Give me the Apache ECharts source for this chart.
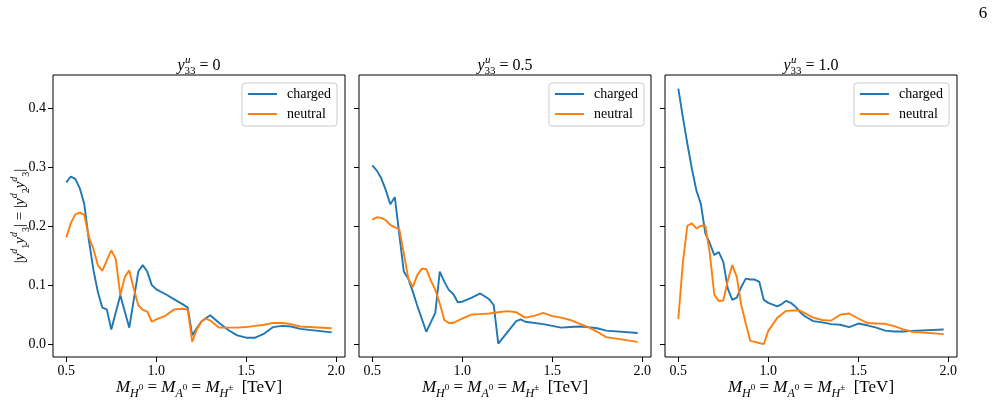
<!DOCTYPE html>
<html><head><meta charset="utf-8">
<script src="https://cdn.jsdelivr.net/npm/echarts@6/dist/echarts.min.js"></script>
<style>html,body{margin:0;padding:0;background:#fff}#c{width:996px;height:403px}</style>
</head><body><div id="c"></div>
<script>
const FONT = 'Liberation Serif';
const xTicks = [0.5, 1.0, 1.5, 2.0];
const yTicks = [0.0, 0.1, 0.2, 0.3, 0.4];
const panelValues = ['0', '0.5', '1.0'];
const seriesNames = ['charged', 'neutral'];

const charged0 = [[0.5,0.274],[0.525,0.284],[0.55,0.280],[0.575,0.264],[0.6,0.237],[0.625,0.177],[0.65,0.127],[0.675,0.089],[0.7,0.062],[0.725,0.059],[0.75,0.025],[0.8,0.083],[0.85,0.028],[0.9,0.123],[0.925,0.134],[0.95,0.123],[0.975,0.100],[1.0,0.093],[1.05,0.085],[1.1,0.076],[1.15,0.067],[1.175,0.062],[1.2,0.015],[1.225,0.027],[1.25,0.038],[1.275,0.044],[1.3,0.049],[1.35,0.036],[1.4,0.024],[1.45,0.015],[1.5,0.011],[1.55,0.011],[1.6,0.018],[1.65,0.029],[1.7,0.031],[1.75,0.030],[1.8,0.026],[1.975,0.020]];
const neutral0 = [[0.5,0.181],[0.525,0.205],[0.55,0.220],[0.575,0.223],[0.6,0.219],[0.625,0.182],[0.65,0.162],[0.675,0.134],[0.7,0.124],[0.725,0.142],[0.75,0.159],[0.775,0.144],[0.8,0.083],[0.825,0.114],[0.85,0.125],[0.875,0.094],[0.9,0.066],[0.925,0.058],[0.95,0.055],[0.975,0.038],[1.0,0.042],[1.05,0.048],[1.1,0.059],[1.15,0.060],[1.175,0.058],[1.2,0.004],[1.225,0.025],[1.25,0.038],[1.275,0.0435],[1.3,0.040],[1.35,0.028],[1.45,0.028],[1.5,0.029],[1.55,0.031],[1.6,0.033],[1.65,0.036],[1.7,0.036],[1.75,0.034],[1.8,0.030],[1.975,0.027]];
const charged05 = [[0.5,0.303],[0.525,0.294],[0.55,0.281],[0.575,0.261],[0.6,0.237],[0.625,0.249],[0.65,0.186],[0.675,0.123],[0.7,0.111],[0.725,0.089],[0.75,0.065],[0.775,0.043],[0.8,0.021],[0.85,0.053],[0.875,0.123],[0.9,0.106],[0.925,0.092],[0.95,0.085],[0.975,0.071],[1.0,0.072],[1.05,0.0785],[1.1,0.086],[1.15,0.076],[1.175,0.066],[1.2,0.001],[1.3,0.039],[1.325,0.042],[1.35,0.038],[1.45,0.034],[1.5,0.031],[1.55,0.028],[1.6,0.029],[1.65,0.030],[1.7,0.029],[1.75,0.027],[1.8,0.023],[1.975,0.019]];
const neutral05 = [[0.5,0.211],[0.525,0.215],[0.55,0.214],[0.575,0.210],[0.6,0.202],[0.625,0.198],[0.65,0.195],[0.675,0.154],[0.7,0.111],[0.725,0.097],[0.75,0.117],[0.775,0.128],[0.8,0.127],[0.825,0.108],[0.85,0.092],[0.875,0.069],[0.9,0.041],[0.925,0.036],[0.95,0.036],[1.0,0.0435],[1.05,0.050],[1.1,0.051],[1.15,0.052],[1.2,0.054],[1.25,0.056],[1.3,0.054],[1.35,0.045],[1.4,0.048],[1.45,0.053],[1.5,0.0475],[1.55,0.045],[1.6,0.041],[1.65,0.035],[1.7,0.029],[1.75,0.021],[1.8,0.012],[1.975,0.004]];
const charged10 = [[0.5,0.433],[0.525,0.385],[0.55,0.340],[0.575,0.298],[0.6,0.261],[0.625,0.238],[0.65,0.188],[0.675,0.171],[0.7,0.151],[0.725,0.156],[0.75,0.1395],[0.775,0.094],[0.8,0.075],[0.825,0.079],[0.85,0.097],[0.875,0.111],[0.9,0.1095],[0.925,0.1095],[0.95,0.1056],[0.975,0.075],[1.0,0.070],[1.025,0.067],[1.05,0.064],[1.075,0.068],[1.1,0.0735],[1.125,0.070],[1.15,0.064],[1.175,0.055],[1.2,0.048],[1.225,0.0435],[1.25,0.039],[1.3,0.037],[1.35,0.034],[1.4,0.033],[1.45,0.029],[1.5,0.035],[1.55,0.032],[1.6,0.028],[1.65,0.023],[1.7,0.0215],[1.75,0.0215],[1.8,0.0226],[1.975,0.025]];
const neutral10 = [[0.5,0.0424],[0.525,0.137],[0.55,0.2006],[0.575,0.2045],[0.6,0.196],[0.625,0.2006],[0.65,0.2006],[0.675,0.154],[0.7,0.084],[0.725,0.073],[0.75,0.074],[0.775,0.108],[0.8,0.134],[0.825,0.114],[0.85,0.066],[0.875,0.035],[0.9,0.0056],[0.925,0.004],[0.95,0.002],[0.975,0.0],[1.0,0.0226],[1.05,0.0446],[1.1,0.0565],[1.15,0.057],[1.175,0.057],[1.2,0.053],[1.25,0.045],[1.3,0.041],[1.35,0.040],[1.4,0.050],[1.45,0.052],[1.5,0.0435],[1.55,0.036],[1.6,0.035],[1.65,0.0345],[1.7,0.0305],[1.75,0.025],[1.8,0.021],[1.975,0.017]];

const panelData = [[charged0, neutral0], [charged05, neutral05], [charged10, neutral10]];
const colors = ['#1f77b4', '#ff7f0e'];

const gridLefts = [53, 359, 665];
const gridTop = 75, gridW = 292, gridH = 282;
const xMin = 0.426, xMax = 2.049, yMin = -0.0217, yMax = 0.456;
const legendRights = [659, 352, 47];

const ctx = document.createElement('canvas').getContext('2d');
function tw(t, size, italic) { ctx.font = (italic ? 'italic ' : '') + size + 'px "' + FONT + '"'; return ctx.measureText(t).width; }

const grids = [], xAxes = [], yAxes = [], series = [], legends = [], titles = [], graphics = [];

const xName = '{i|M}{b|H}{q|0}{t| = }{i|M}{b|A}{q|0}{t| = }{i|M}{b|H}{q|±}{t|  [TeV]}';
const xRich = {
  i: {fontFamily: FONT, fontStyle: 'italic', fontSize: 17, lineHeight: 24, color: '#000'},
  t: {fontFamily: FONT, fontSize: 17, lineHeight: 24, color: '#000'},
  b: {fontFamily: FONT, fontStyle: 'italic', fontSize: 12, lineHeight: 12, verticalAlign: 'bottom', color: '#000'},
  q: {fontFamily: FONT, fontSize: 9, lineHeight: 9, verticalAlign: 'middle', color: '#000'}
};
const yName = '{t||}{i|y}{p|d}{b|1}{i|y}{p|d}{b|3}{t|| = |}{i|y}{p|d}{b|2}{i|y}{p|d}{b|3}{t||}';
const yRich = {
  i: {fontFamily: FONT, fontStyle: 'italic', fontSize: 15, lineHeight: 22, color: '#000'},
  t: {fontFamily: FONT, fontSize: 15, lineHeight: 22, color: '#000'},
  b: {fontFamily: FONT, fontSize: 10, lineHeight: 10, verticalAlign: 'bottom', color: '#000'},
  p: {fontFamily: FONT, fontStyle: 'italic', fontSize: 10, lineHeight: 10, verticalAlign: 'top', color: '#000'}
};

for (let i = 0; i < 3; i++) {
  grids.push({left: gridLefts[i], top: gridTop, width: gridW, height: gridH, show: true,
    borderColor: '#000', borderWidth: 1, backgroundColor: 'transparent',
    containLabel: false, outerBoundsMode: 'none'});
  xAxes.push({
    type: 'value', gridIndex: i, min: xMin, max: xMax,
    axisLine: {show: false, onZero: false},
    splitLine: {show: false},
    axisTick: {show: true, inside: false, length: 5, customValues: xTicks, lineStyle: {color: '#000', width: 1}},
    axisLabel: {show: true, customValues: xTicks, formatter: v => v.toFixed(1), fontFamily: FONT, fontSize: 14, color: '#000', margin: 7},
    name: xName, nameLocation: 'middle', nameGap: 19, nameMoveOverlap: false,
    nameTextStyle: {fontFamily: FONT, fontSize: 17, lineHeight: 24, color: '#000', rich: xRich}
  });
  yAxes.push({
    type: 'value', gridIndex: i, min: yMin, max: yMax,
    axisLine: {show: false, onZero: false},
    splitLine: {show: false},
    axisTick: {show: true, inside: false, length: 5, customValues: yTicks, lineStyle: {color: '#000', width: 1}},
    axisLabel: {show: i === 0, customValues: yTicks, formatter: v => v.toFixed(1), fontFamily: FONT, fontSize: 14, color: '#000', margin: 7},
    name: i === 0 ? yName : '', nameLocation: 'middle', nameGap: 22, nameRotate: 90, nameMoveOverlap: false,
    nameTextStyle: {fontFamily: FONT, fontSize: 15, lineHeight: 22, color: '#000', rich: yRich}
  });
  for (let s = 0; s < 2; s++) {
    series.push({
      type: 'line', name: seriesNames[s], xAxisIndex: i, yAxisIndex: i,
      data: panelData[i][s], symbol: 'none', showSymbol: false, animation: false,
      lineStyle: {color: colors[s], width: 1.9}, itemStyle: {color: colors[s]}
    });
  }
  legends.push({
    data: seriesNames, orient: 'vertical', right: legendRights[i], top: 83,
    itemWidth: 29, itemHeight: 14, itemGap: 6, padding: [4, 6, 5, 5],
    backgroundColor: 'rgba(255,255,255,0.8)', borderColor: '#cccccc', borderWidth: 1, borderRadius: 3,
    itemStyle: {opacity: 0},
    textStyle: {fontFamily: FONT, fontSize: 14, color: '#000', padding: [0, 0, 0, 5]},
    selectedMode: false
  });
  const cx = gridLefts[i] + gridW / 2;
  const wy = tw('y', 16, true), ws = tw('33', 11, false), we = tw(' = ' + panelValues[i], 16, false);
  const start = cx - (wy + ws + we) / 2;
  titles.push({
    left: start, top: 55, padding: 0,
    text: '{y|y}{s|33}{e| = ' + panelValues[i] + '}',
    textStyle: {fontWeight: 'normal', rich: {
      y: {fontFamily: FONT, fontStyle: 'italic', fontWeight: 'normal', fontSize: 16, lineHeight: 22, color: '#000'},
      s: {fontFamily: FONT, fontWeight: 'normal', fontSize: 11, lineHeight: 11, verticalAlign: 'bottom', color: '#000'},
      e: {fontFamily: FONT, fontWeight: 'normal', fontSize: 16, lineHeight: 22, color: '#000'}
    }}
  });
  graphics.push({type: 'text', x: start + wy + 0.5, y: 66,
    style: {text: 'u', font: 'italic 11px "' + FONT + '"', fill: '#000', textVerticalAlign: 'bottom'}});
}
graphics.push({type: 'text', x: 983, y: 14,
  style: {text: '6', font: '17px "' + FONT + '"', fill: '#000', textAlign: 'center', textVerticalAlign: 'middle'}});

const chart = echarts.init(document.getElementById('c'), null, {renderer: 'canvas'});
chart.setOption({
  animation: false,
  backgroundColor: '#fff',
  title: titles, grid: grids, xAxis: xAxes, yAxis: yAxes, series: series, legend: legends,
  graphic: graphics
});
</script></body></html>
